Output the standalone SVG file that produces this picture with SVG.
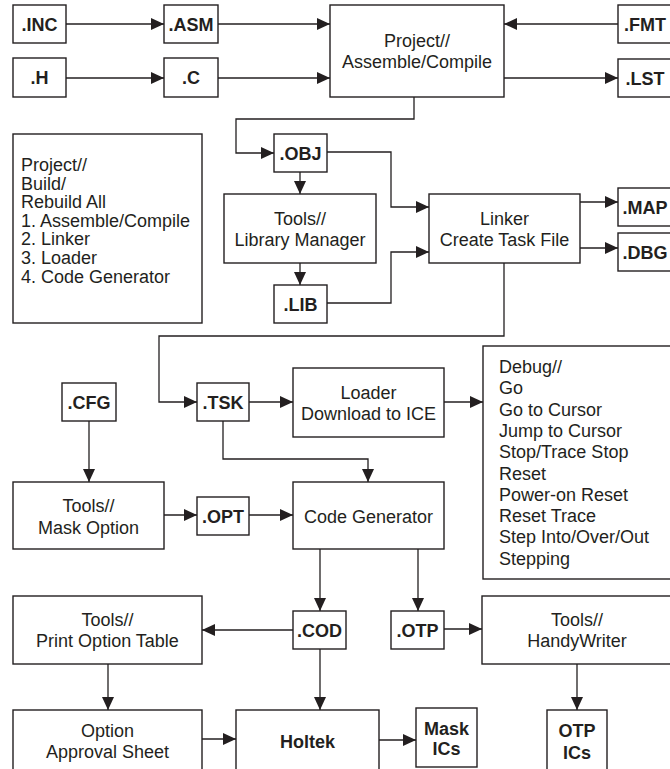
<svg xmlns="http://www.w3.org/2000/svg" width="670" height="769" viewBox="0 0 670 769">
<defs>
<style>
rect{fill:#fff;stroke:#231f20;stroke-width:1.4}
text{font-family:"Liberation Sans",Arial,sans-serif;font-size:18px;fill:#231f20}
.b{font-weight:bold}
.c{text-anchor:middle}
#connectors path{fill:none;stroke:#231f20;stroke-width:1.3;marker-end:url(#arr)}
</style>
<marker id="arr" markerUnits="userSpaceOnUse" markerWidth="13" markerHeight="12" refX="13" refY="6" orient="auto">
<path d="M0,0 L13,6 L0,12 z" fill="#231f20"/>
</marker>
</defs>
<rect x="0" y="0" width="670" height="769" style="stroke:none"/>
<g id="connectors">
<path d="M66,24 H164"/>
<path d="M66,78 H164"/>
<path d="M218,24 H330"/>
<path d="M218,78 H330"/>
<path d="M618,24 H504"/>
<path d="M504,78 H618"/>
<path d="M414,97 V119 H236 V153 H274"/>
<path d="M327,152 H391 V207 H429"/>
<path d="M300,172 V194"/>
<path d="M300,263 V285"/>
<path d="M327,303 H391 V252 H429"/>
<path d="M580,202 H618"/>
<path d="M580,248 H618"/>
<path d="M504,263 V336 H159 V402 H197"/>
<path d="M249,402 H293"/>
<path d="M444,402 H483"/>
<path d="M223,421 V459 H368 V482"/>
<path d="M89,421 V482"/>
<path d="M164,515 H197"/>
<path d="M249,515 H293"/>
<path d="M320,549 V611"/>
<path d="M418,549 V611"/>
<path d="M293,630 H202"/>
<path d="M444,629 H482"/>
<path d="M320,649 V710"/>
<path d="M108,664 V710"/>
<path d="M202,739 H236"/>
<path d="M379,740 H416"/>
<path d="M577,664 V710"/>
</g>
<g id="inc"><rect x="13" y="5" width="53" height="38"/><text class="b c" x="39.5" y="30.5">.INC</text></g>
<g id="asm"><rect x="164" y="5" width="54" height="38"/><text class="b c" x="191" y="30.5">.ASM</text></g>
<g id="h"><rect x="13" y="58" width="53" height="39"/><text class="b c" x="39.5" y="84">.H</text></g>
<g id="c"><rect x="164" y="58" width="54" height="39"/><text class="b c" x="191" y="84">.C</text></g>
<g id="project"><rect x="330" y="5" width="174" height="92"/><text class="c" x="417" y="47">Project//</text><text class="c" x="417" y="68">Assemble/Compile</text></g>
<g id="fmt"><rect x="618" y="5" width="54" height="38"/><text class="b c" x="645" y="30.5">.FMT</text></g>
<g id="lst"><rect x="618" y="59" width="54" height="38"/><text class="b c" x="645" y="84.5">.LST</text></g>
<g id="build"><rect x="13" y="134" width="189" height="189"/>
<text x="21" y="171">Project//</text>
<text x="21" y="189.6">Build/</text>
<text x="21" y="208.2">Rebuild All</text>
<text x="21" y="226.8">1. Assemble/Compile</text>
<text x="21" y="245.4">2. Linker</text>
<text x="21" y="264">3. Loader</text>
<text x="21" y="282.6">4. Code Generator</text>
</g>
<g id="obj"><rect x="274" y="134" width="53" height="38"/><text class="b c" x="300.5" y="159.5">.OBJ</text></g>
<g id="libmgr"><rect x="224" y="194" width="152" height="69"/><text class="c" x="300" y="224.5">Tools//</text><text class="c" x="300" y="246">Library Manager</text></g>
<g id="lib"><rect x="274" y="285" width="53" height="38"/><text class="b c" x="300.5" y="310.5">.LIB</text></g>
<g id="linker"><rect x="429" y="194" width="151" height="69"/><text class="c" x="504.5" y="224.5">Linker</text><text class="c" x="504.5" y="246">Create Task File</text></g>
<g id="map"><rect x="618" y="188" width="54" height="38"/><text class="b c" x="645" y="213.5">.MAP</text></g>
<g id="dbg"><rect x="618" y="233" width="54" height="38"/><text class="b c" x="645" y="258.5">.DBG</text></g>
<g id="cfg"><rect x="62" y="383" width="54" height="38"/><text class="b c" x="89" y="408.5">.CFG</text></g>
<g id="tsk"><rect x="197" y="383" width="52" height="38"/><text class="b c" x="223" y="408.5">.TSK</text></g>
<g id="loader"><rect x="293" y="368" width="151" height="69"/><text class="c" x="368.5" y="398.5">Loader</text><text class="c" x="368.5" y="419.5">Download to ICE</text></g>
<g id="debug"><rect x="483" y="346" width="189" height="233"/>
<text x="499" y="373">Debug//</text>
<text x="499" y="394.3">Go</text>
<text x="499" y="415.6">Go to Cursor</text>
<text x="499" y="436.9">Jump to Cursor</text>
<text x="499" y="458.2">Stop/Trace Stop</text>
<text x="499" y="479.5">Reset</text>
<text x="499" y="500.8">Power-on Reset</text>
<text x="499" y="522.1">Reset Trace</text>
<text x="499" y="543.4">Step Into/Over/Out</text>
<text x="499" y="564.7">Stepping</text>
</g>
<g id="maskopt"><rect x="13" y="482" width="151" height="67"/><text class="c" x="88.5" y="511.5">Tools//</text><text class="c" x="88.5" y="533.5">Mask Option</text></g>
<g id="opt"><rect x="197" y="497" width="52" height="38"/><text class="b c" x="223" y="522.5">.OPT</text></g>
<g id="codegen"><rect x="293" y="482" width="151" height="67"/><text class="c" x="368.5" y="522.5">Code Generator</text></g>
<g id="printopt"><rect x="13" y="596" width="189" height="68"/><text class="c" x="107.5" y="625.5">Tools//</text><text class="c" x="107.5" y="646.5">Print Option Table</text></g>
<g id="cod"><rect x="293" y="611" width="53" height="38"/><text class="b c" x="319.5" y="636.5">.COD</text></g>
<g id="otp"><rect x="391" y="611" width="53" height="38"/><text class="b c" x="417.5" y="636.5">.OTP</text></g>
<g id="handy"><rect x="482" y="596" width="190" height="68"/><text class="c" x="577" y="625.5">Tools//</text><text class="c" x="577" y="646.5">HandyWriter</text></g>
<g id="approval"><rect x="13" y="710" width="189" height="64"/><text class="c" x="107.5" y="736.5">Option</text><text class="c" x="107.5" y="757.5">Approval Sheet</text></g>
<g id="holtek"><rect x="236" y="710" width="143" height="64"/><text class="b c" x="307.5" y="747.5">Holtek</text></g>
<g id="maskics"><rect x="416" y="708" width="61" height="59"/><text class="b c" x="446.5" y="734.5">Mask</text><text class="b c" x="446.5" y="754.5">ICs</text></g>
<g id="otpics"><rect x="547" y="710" width="60" height="64"/><text class="b c" x="577" y="736.5">OTP</text><text class="b c" x="577" y="758.5">ICs</text></g>
</svg>
